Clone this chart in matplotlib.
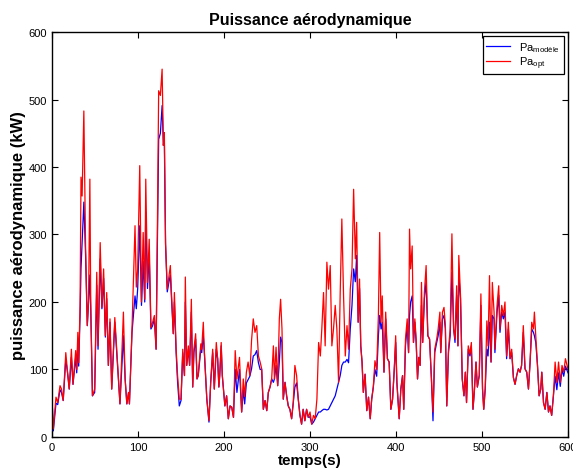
import numpy as np
import matplotlib
matplotlib.use('Agg')
import matplotlib.pyplot as plt

plt.rcParams['font.family'] = ['Liberation Sans', 'DejaVu Sans']
plt.rcParams['mathtext.fontset'] = 'custom'
plt.rcParams['mathtext.rm'] = 'Liberation Sans'

# temps (s) et puissances (kW)
temps = [0, 1.5, 4.6, 6.6, 9.3, 11, 13, 16, 18, 20, 22.5, 24.4, 27.5, 28.7, 30, 31, 32.6, 33.7, 35, 37,
         39, 41, 42.5, 44, 45, 47, 49.6, 52, 53.5, 56, 58, 60, 62, 63.6, 65.5, 67.4, 69.4, 73, 75, 76,
         79, 83, 85, 87, 89, 90, 93, 96.5, 98, 99.6, 102, 104, 106, 107.8, 109, 111, 113, 115, 117, 119,
         121, 122.5, 124, 126, 128, 129.5, 130.6, 132, 134, 136, 137.6, 139, 141, 142.3, 144.3, 146, 148, 150, 152, 154,
         155, 156.6, 158.5, 160, 162, 163.6, 165, 167, 168.6, 170, 173, 174, 175.9, 177, 180, 182.5, 184.5, 186.8, 188.7, 191,
         192.6, 194, 195, 196.7, 198, 201, 203, 205, 207, 209, 211, 213, 215, 218, 220.5, 222.4, 224, 226, 228, 230,
         232, 234, 236, 238, 240, 242, 243.8, 245.7, 247.7, 249.7, 251.5, 253.5, 255.4, 257.4, 258.6, 260.5, 262.4, 264.3, 265.8, 267.4,
         268.9, 270.9, 272.8, 274.7, 276.6, 278.6, 280.5, 282.4, 284.4, 286.3, 288.3, 290.2, 292, 294, 296, 298, 300, 302, 304, 306,
         308, 310, 312, 313.7, 315.7, 317.6, 319.6, 321.5, 323.5, 325.4, 327.3, 329.3, 331.2, 333.2, 335.1, 337, 339, 341, 343, 344.8,
         346.8, 348.8, 350.7, 352.7, 354.2, 356, 357.6, 359, 360.5, 362, 364, 366, 368, 370, 371.7, 373.6, 375.5, 377.5, 379.5, 381,
         382.6, 384, 386, 388, 390, 392, 394, 396, 398, 399.6, 401, 403.7, 405.6, 407.6, 409, 411, 413, 414.6, 415.7, 417,
         418.8, 420.3, 421.9, 423.4, 425, 426.5, 428, 429.6, 431, 433, 435, 437, 439, 441, 443, 445, 447.3, 449, 451, 452,
         454, 455.8, 457.4, 459, 461, 463, 465, 467, 468.6, 470.5, 472, 473, 475, 477, 479, 480.6, 482, 484, 486, 487.6,
         489.5, 491, 493, 494.6, 496.8, 498.7, 500.6, 502, 503.7, 505.6, 507, 508.7, 510.5, 512, 514, 515, 517.5, 519.4, 520.9, 522.9,
         524.8, 526.7, 528.6, 530.6, 532.6, 534.5, 536.5, 538.4, 540.3, 542.3, 544.2, 546, 548, 550, 552, 554, 555.9, 557.8, 559.8, 560.9,
         562.5, 564.5, 566.4, 568.3, 569.5, 571.5, 573.4, 575.4, 577.3, 579, 581, 583, 585, 587, 589, 591, 593, 595, 597, 600]

pa_opt = [56, 12, 59, 51, 76, 71, 54, 125, 96, 71, 130, 78, 128, 100, 155, 110, 195, 385, 357, 483,
          283, 165, 204, 382, 200, 61, 71, 244, 135, 288, 192, 249, 150, 214, 106, 175, 71, 177, 135, 115,
          49, 185, 86, 49, 66, 49, 160, 313, 222, 249, 402, 200, 303, 204, 382, 229, 293, 162, 170, 180,
          130, 308, 513, 506, 545, 432, 451, 288, 219, 239, 254, 209, 153, 214, 130, 91, 56, 56, 130, 91,
          237, 106, 135, 106, 204, 74, 130, 153, 86, 91, 138, 130, 170, 130, 56, 24, 81, 130, 71, 140,
          116, 74, 91, 140, 91, 46, 61, 27, 46, 44, 29, 128, 86, 118, 37, 86, 60, 96, 111, 91,
          143, 175, 155, 165, 120, 111, 101, 41, 54, 39, 66, 74, 86, 135, 86, 133, 76, 175, 204, 160,
          56, 81, 61, 46, 41, 27, 51, 106, 91, 56, 32, 19, 41, 24, 41, 29, 37, 19, 32, 27,
          56, 140, 120, 160, 214, 135, 259, 219, 254, 135, 160, 195, 160, 81, 214, 323, 209, 120, 165, 130,
          219, 249, 367, 264, 318, 170, 234, 135, 111, 66, 93, 39, 59, 27, 56, 74, 113, 100, 180, 303,
          170, 209, 96, 185, 116, 111, 41, 56, 101, 150, 81, 27, 71, 91, 41, 145, 175, 125, 308, 249,
          283, 140, 175, 145, 86, 118, 106, 229, 140, 214, 254, 150, 145, 91, 37, 130, 145, 160, 185, 125,
          185, 192, 165, 46, 130, 160, 301, 160, 145, 224, 135, 269, 209, 86, 61, 96, 51, 135, 123, 140,
          41, 66, 111, 74, 91, 212, 71, 41, 71, 172, 135, 239, 111, 229, 185, 130, 195, 224, 160, 195,
          180, 200, 120, 170, 116, 130, 88, 78, 91, 101, 96, 106, 165, 101, 96, 71, 111, 170, 160, 185,
          150, 106, 61, 71, 96, 51, 41, 66, 37, 46, 32, 61, 111, 81, 111, 81, 106, 96, 116, 100]

pa_modele = [56, 9, 50, 48, 70, 66, 54, 115, 96, 71, 118, 78, 118, 95, 140, 105, 180, 250, 290, 348,
             270, 165, 200, 240, 190, 61, 66, 225, 130, 264, 190, 235, 148, 205, 106, 170, 71, 170, 130, 112,
             49, 150, 86, 49, 66, 49, 155, 209, 190, 220, 313, 195, 260, 200, 333, 220, 270, 160, 165, 175,
             130, 280, 441, 450, 491, 432, 440, 285, 215, 230, 240, 205, 153, 200, 125, 81, 46, 54, 125, 91,
             200, 106, 130, 106, 185, 74, 125, 145, 86, 91, 130, 125, 150, 128, 56, 22, 81, 125, 71, 130,
             116, 74, 91, 135, 91, 46, 61, 27, 46, 44, 29, 100, 66, 100, 37, 70, 49, 80, 85, 90,
             101, 120, 122, 128, 110, 100, 100, 41, 54, 39, 66, 74, 86, 81, 86, 106, 76, 111, 148, 140,
             56, 81, 61, 46, 41, 27, 51, 74, 80, 56, 32, 19, 41, 24, 41, 29, 30, 19, 22, 27,
             32, 37, 37, 39, 41, 41, 40, 41, 46, 51, 56, 61, 71, 81, 91, 106, 111, 111, 115, 110,
             160, 195, 249, 230, 269, 170, 220, 135, 111, 66, 93, 39, 59, 27, 56, 74, 100, 90, 150, 180,
             160, 170, 96, 175, 116, 111, 41, 56, 101, 140, 81, 27, 71, 91, 41, 135, 165, 125, 180, 200,
             209, 140, 170, 140, 86, 118, 106, 195, 140, 205, 230, 150, 145, 91, 24, 125, 140, 150, 170, 125,
             175, 180, 160, 46, 125, 150, 244, 160, 140, 210, 135, 240, 205, 86, 61, 96, 51, 130, 120, 135,
             41, 66, 111, 74, 91, 195, 71, 41, 71, 130, 120, 170, 111, 180, 175, 125, 185, 210, 155, 185,
             175, 185, 116, 160, 116, 125, 88, 78, 91, 101, 96, 106, 155, 101, 96, 71, 111, 160, 155, 150,
             140, 106, 61, 71, 96, 51, 41, 66, 37, 46, 32, 61, 90, 70, 95, 75, 100, 90, 105, 95]

fig = plt.figure(figsize=(5.73, 4.77), dpi=100)
ax = fig.add_axes([0.0908, 0.0818, 0.9005, 0.849])

ax.plot(temps, pa_modele, color='blue', lw=0.9, label=r'Pa$_{\mathrm{modèle}}$')
ax.plot(temps, pa_opt, color='red', lw=0.9, label=r'Pa$_{\mathrm{opt}}$')

ax.set_xlim(0, 600)
ax.set_ylim(0, 600)
ax.set_xticks(np.arange(0, 601, 100))
ax.set_yticks(np.arange(0, 601, 100))
ax.tick_params(direction='in', top=True, right=True, labelsize=8, length=4, width=0.8)
for s in ax.spines.values():
    s.set_linewidth(1.0)

ax.set_title('Puissance aérodynamique', fontsize=11.5, fontweight='bold', pad=6)
ax.set_xlabel('temps(s)', fontsize=11, fontweight='bold', labelpad=1)
ax.set_ylabel('puissance aérodynamique (kW)', fontsize=12, fontweight='bold', labelpad=2)

leg = ax.legend(loc='upper right', fontsize=8, fancybox=False, framealpha=1,
                edgecolor='black', handlelength=2.2, borderpad=0.3, labelspacing=0.1,
                borderaxespad=0.4)
leg.get_frame().set_linewidth(0.9)

fig.savefig('out.png', dpi=100)
